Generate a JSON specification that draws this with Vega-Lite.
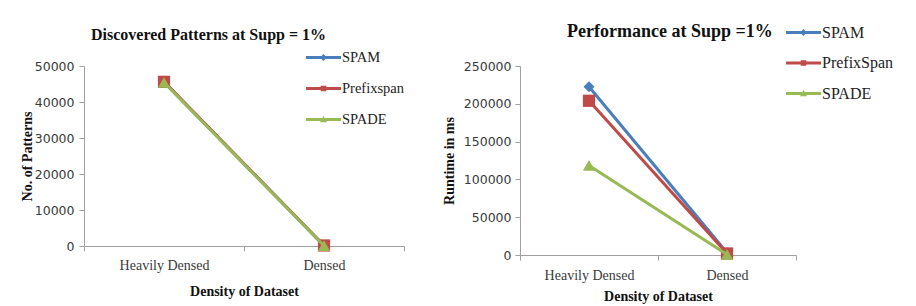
{
  "$schema": "https://vega.github.io/schema/vega-lite/v6.json",
  "background": "white",
  "padding": {"left": 20, "top": 15, "right": 5, "bottom": 5},
  "spacing": 116,
  "bounds": "flush",
  "resolve": {"scale": {"color": "independent", "shape": "independent"}, "legend": {"color": "independent", "shape": "independent"}},
  "config": {
    "view": {"stroke": null},
    "axis": {
      "domainColor": "#a0a0a0",
      "tickColor": "#a0a0a0",
      "tickSize": 5,
      "grid": false,
      "labelColor": "#3a3a3a",
      "titleColor": "#111111",
      "titleFont": "Liberation Serif",
      "titleFontWeight": "bold",
      "titleFontSize": 14
    },
    "title": {"font": "Liberation Serif", "fontSize": 16, "fontWeight": "bold", "color": "#111111", "anchor": "start", "frame": "group"}
  },
  "datasets": {
    "patterns": [
      {"density": "Heavily Densed", "series": "SPAM", "value": 45600},
      {"density": "Densed", "series": "SPAM", "value": 100},
      {"density": "Heavily Densed", "series": "Prefixspan", "value": 45600},
      {"density": "Densed", "series": "Prefixspan", "value": 150},
      {"density": "Heavily Densed", "series": "SPADE", "value": 45400},
      {"density": "Densed", "series": "SPADE", "value": 80}
    ],
    "runtime": [
      {"density": "Heavily Densed", "series": "SPAM", "value": 222500},
      {"density": "Densed", "series": "SPAM", "value": 3000},
      {"density": "Heavily Densed", "series": "PrefixSpan", "value": 204000},
      {"density": "Densed", "series": "PrefixSpan", "value": 2000},
      {"density": "Heavily Densed", "series": "SPADE", "value": 118500},
      {"density": "Densed", "series": "SPADE", "value": 800}
    ]
  },
  "hconcat": [
    {
      "width": 320,
      "height": 180,
      "data": {"name": "patterns"},
      "title": {"text": "Discovered Patterns at Supp = 1%", "dx": 7, "offset": -3},
      "encoding": {
        "x": {
          "field": "density", "type": "nominal", "sort": ["Heavily Densed", "Densed"],
          "scale": {"type": "band", "paddingInner": 0, "paddingOuter": 0},
          "axis": {"title": "Density of Dataset", "labelAngle": 0, "tickBand": "extent", "labelFont": "Liberation Serif", "labelFontSize": 14, "labelPadding": 7, "titlePadding": 12}
        },
        "y": {
          "field": "value", "type": "quantitative",
          "scale": {"domain": [0, 50000]},
          "axis": {"title": "No. of Patterns", "values": [0, 10000, 20000, 30000, 40000, 50000], "format": "d", "labelFont": "DejaVu Sans", "labelFontSize": 12.5, "labelPadding": 5, "titlePadding": 0}
        }
      },
      "layer": [
        {"transform": [{"filter": "datum.series == 'SPAM'"}], "mark": {"type": "line", "color": "#4A7EBB", "strokeWidth": 3}},
        {"transform": [{"filter": "datum.series == 'SPAM'"}], "mark": {"type": "point", "shape": "diamond", "filled": true, "color": "#4A7EBB", "size": 120, "opacity": 1}},
        {"transform": [{"filter": "datum.series == 'Prefixspan'"}], "mark": {"type": "line", "color": "#BE4B48", "strokeWidth": 3}},
        {"transform": [{"filter": "datum.series == 'Prefixspan'"}], "mark": {"type": "point", "shape": "square", "filled": true, "color": "#BE4B48", "size": 150, "opacity": 1}},
        {"transform": [{"filter": "datum.series == 'SPADE'"}], "mark": {"type": "line", "color": "#98B954", "strokeWidth": 3}},
        {"transform": [{"filter": "datum.series == 'SPADE'"}], "mark": {"type": "point", "shape": "triangle-up", "filled": true, "color": "#98B954", "size": 150, "opacity": 1}},
        {
          "mark": {"type": "point", "filled": true, "opacity": 0},
          "encoding": {
            "color": {
              "field": "series", "type": "nominal",
              "scale": {"domain": ["SPAM", "Prefixspan", "SPADE"], "range": ["#4A7EBB", "#BE4B48", "#98B954"]},
              "legend": {"title": null, "orient": "none", "legendX": 222, "legendY": -26, "symbolSize": 1225, "symbolOpacity": 1, "symbolStrokeWidth": 0, "labelFont": "Liberation Serif", "labelFontSize": 14.5, "labelColor": "#222222", "rowPadding": 7, "labelOffset": 1, "padding": 0, "labelLimit": 200}
            },
            "shape": {
              "field": "series", "type": "nominal",
              "scale": {"domain": ["SPAM", "Prefixspan", "SPADE"], "range": [
                "M-1,-0.085L1,-0.085L1,0.085L-1,0.085Z M0,-0.2L0.2,0L0,0.2L-0.2,0Z",
                "M-1,-0.085L1,-0.085L1,0.085L-1,0.085Z M-0.16,-0.16L0.16,-0.16L0.16,0.16L-0.16,0.16Z",
                "M-1,-0.085L1,-0.085L1,0.085L-1,0.085Z M0,-0.2L0.2,0.15L-0.2,0.15Z"
              ]},
              "legend": {"title": null, "orient": "none", "legendX": 222, "legendY": -26, "symbolSize": 1225, "symbolOpacity": 1, "symbolStrokeWidth": 0, "labelFont": "Liberation Serif", "labelFontSize": 14.5, "labelColor": "#222222", "rowPadding": 7, "labelOffset": 1, "padding": 0, "labelLimit": 200}
            }
          }
        }
      ]
    },
    {
      "width": 276,
      "height": 189,
      "data": {"name": "runtime"},
      "title": {"text": "Performance at Supp =1%", "dx": 47, "offset": -26, "fontSize": 18},
      "encoding": {
        "x": {
          "field": "density", "type": "nominal", "sort": ["Heavily Densed", "Densed"],
          "scale": {"type": "band", "paddingInner": 0, "paddingOuter": 0},
          "axis": {"title": "Density of Dataset", "labelAngle": 0, "tickBand": "extent", "labelFont": "Liberation Serif", "labelFontSize": 14, "labelPadding": 8, "titlePadding": 7}
        },
        "y": {
          "field": "value", "type": "quantitative",
          "scale": {"domain": [0, 250000]},
          "axis": {"title": "Runtime in ms", "values": [0, 50000, 100000, 150000, 200000, 250000], "format": "d", "labelFont": "DejaVu Sans", "labelFontSize": 12.5, "labelPadding": 4, "titlePadding": 7}
        }
      },
      "layer": [
        {"transform": [{"filter": "datum.series == 'SPAM'"}], "mark": {"type": "line", "color": "#4A7EBB", "strokeWidth": 3}},
        {"transform": [{"filter": "datum.series == 'SPAM'"}], "mark": {"type": "point", "shape": "diamond", "filled": true, "color": "#4A7EBB", "size": 120, "opacity": 1}},
        {"transform": [{"filter": "datum.series == 'PrefixSpan'"}], "mark": {"type": "line", "color": "#BE4B48", "strokeWidth": 3}},
        {"transform": [{"filter": "datum.series == 'PrefixSpan'"}], "mark": {"type": "point", "shape": "square", "filled": true, "color": "#BE4B48", "size": 150, "opacity": 1}},
        {"transform": [{"filter": "datum.series == 'SPADE'"}], "mark": {"type": "line", "color": "#98B954", "strokeWidth": 3}},
        {"transform": [{"filter": "datum.series == 'SPADE'"}], "mark": {"type": "point", "shape": "triangle-up", "filled": true, "color": "#98B954", "size": 150, "opacity": 1}},
        {
          "mark": {"type": "point", "filled": true, "opacity": 0},
          "encoding": {
            "color": {
              "field": "series", "type": "nominal",
              "scale": {"domain": ["SPAM", "PrefixSpan", "SPADE"], "range": ["#4A7EBB", "#BE4B48", "#98B954"]},
              "legend": {"title": null, "orient": "none", "legendX": 266, "legendY": -51, "symbolSize": 1225, "symbolOpacity": 1, "symbolStrokeWidth": 0, "labelFont": "Liberation Serif", "labelFontSize": 16, "labelColor": "#222222", "rowPadding": 4.5, "labelOffset": 1, "padding": 0, "labelLimit": 200}
            },
            "shape": {
              "field": "series", "type": "nominal",
              "scale": {"domain": ["SPAM", "PrefixSpan", "SPADE"], "range": [
                "M-1,-0.085L1,-0.085L1,0.085L-1,0.085Z M0,-0.2L0.2,0L0,0.2L-0.2,0Z",
                "M-1,-0.085L1,-0.085L1,0.085L-1,0.085Z M-0.16,-0.16L0.16,-0.16L0.16,0.16L-0.16,0.16Z",
                "M-1,-0.085L1,-0.085L1,0.085L-1,0.085Z M0,-0.2L0.2,0.15L-0.2,0.15Z"
              ]},
              "legend": {"title": null, "orient": "none", "legendX": 266, "legendY": -51, "symbolSize": 1225, "symbolOpacity": 1, "symbolStrokeWidth": 0, "labelFont": "Liberation Serif", "labelFontSize": 16, "labelColor": "#222222", "rowPadding": 4.5, "labelOffset": 1, "padding": 0, "labelLimit": 200}
            }
          }
        }
      ]
    }
  ]
}
